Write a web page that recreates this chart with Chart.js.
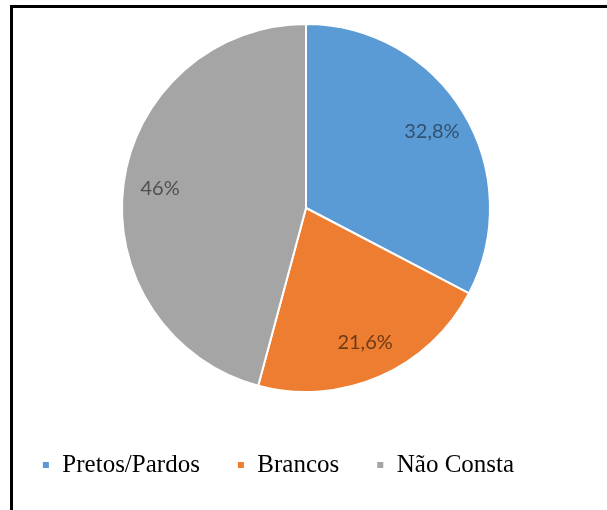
<!DOCTYPE html>
<html lang="pt-BR">
<head>
<meta charset="utf-8">
<title>Cor/raça</title>
<script src="https://cdn.jsdelivr.net/npm/chart.js@4.4.1/dist/chart.umd.min.js"></script>
<style>
    html, body {
        margin: 0;
        padding: 0;
        background: #fff;
        overflow: hidden;
    }

    .frame {
        position: absolute;
        left: 10px;
        top: 5px;
        width: 700px;
        height: 600px;
        border-left: 3px solid #000;
        border-top: 3px solid #000;
    }

    .chart-wrap {
        position: absolute;
        left: 13px;
        top: 8px;
        width: 594px;
        height: 502px;
    }
</style>
</head>
<body>
<div class="frame"></div>
<div class="chart-wrap">
    <canvas id="chart"></canvas>
</div>
<script>
const categories = ['Pretos/Pardos', 'Brancos', 'Não Consta'];
const shares = [32.8, 21.6, 46];
const shareLabels = ['32,8%', '21,6%', '46%'];

const sliceColors = ['#5b9bd5', '#ed7d31', '#a5a5a5'];
const labelColors = ['#34506f', '#6e3a16', '#505050'];

// Excel-like data labels, sitting inside each slice along its middle angle.
const sliceLabels = {
    id: 'sliceLabels',
    afterDatasetsDraw(chart) {
        const { ctx } = chart;
        const meta = chart.getDatasetMeta(0);

        ctx.save();
        ctx.font = '20px Lato, "Open Sans", sans-serif';
        ctx.textAlign = 'center';
        ctx.textBaseline = 'middle';

        meta.data.forEach((arc, i) => {
            const { x, y, startAngle, endAngle, outerRadius } = arc.getProps(
                ['x', 'y', 'startAngle', 'endAngle', 'outerRadius'], true);
            const mid = (startAngle + endAngle) / 2;
            const dist = outerRadius * 0.8;

            ctx.fillStyle = labelColors[i];
            ctx.fillText(shareLabels[i], x + Math.cos(mid) * dist, y + Math.sin(mid) * dist);
        });

        ctx.restore();
    },
};

// The legend in the source sits a little left of the pie and lower than
// Chart.js would put it, so nudge its box after layout.
const legendNudge = {
    id: 'legendNudge',
    afterLayout(chart) {
        const legend = chart.legend;
        if (!legend) {
            return;
        }

        legend.left -= 28;
        legend.right -= 28;
        legend.top += 22.5;
        legend.bottom += 22.5;
    },
};

new Chart(document.getElementById('chart'), {
    type: 'pie',
    data: {
        labels: categories,
        datasets: [{
            data: shares,
            backgroundColor: sliceColors,
            borderColor: '#ffffff',
            borderWidth: 2,
        }],
    },
    options: {
        responsive: true,
        maintainAspectRatio: false,
        animation: false,
        layout: {
            padding: { top: 15, left: 0, right: 8, bottom: 45 },
        },
        plugins: {
            legend: {
                position: 'bottom',
                labels: {
                    boxWidth: 8,
                    boxHeight: 8,
                    padding: 37,
                    color: '#000',
                    font: { family: '"Liberation Serif", "Times New Roman", serif', size: 25 },
                },
            },
            tooltip: { enabled: false },
        },
    },
    plugins: [sliceLabels, legendNudge],
});
</script>
</body>
</html>
